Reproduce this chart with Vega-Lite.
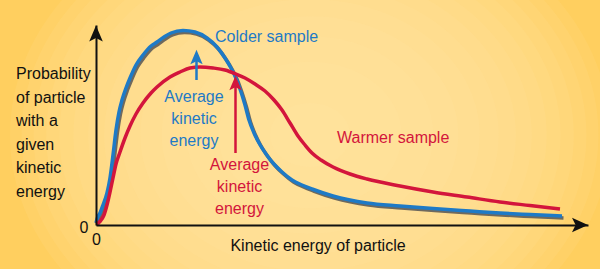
{
  "$schema": "https://vega.github.io/schema/vega-lite/v6.json",
  "width": 492,
  "height": 200,
  "autosize": "none",
  "padding": {"left": 96, "top": 25, "right": 12, "bottom": 44},
  "background": "#FFCF5F",
  "config": {
    "view": {"stroke": null},
    "font": "Liberation Sans"
  },
  "datasets": {
    "glow": [
      {"level": 1}, {"level": 2}, {"level": 3}, {"level": 4}, {"level": 5}, {"level": 6}, {"level": 7},
      {"level": 8}, {"level": 9}, {"level": 10}, {"level": 11}, {"level": 12}, {"level": 13}, {"level": 14}
    ],
    "curves": [
      {"sample": "Colder sample", "x": 0, "y": 2}, {"sample": "Colder sample", "x": 1, "y": 6}, {"sample": "Colder sample", "x": 4, "y": 12}, {"sample": "Colder sample", "x": 7, "y": 20}, {"sample": "Colder sample", "x": 11, "y": 32}, {"sample": "Colder sample", "x": 14, "y": 47}, {"sample": "Colder sample", "x": 17, "y": 70}, {"sample": "Colder sample", "x": 20, "y": 95}, {"sample": "Colder sample", "x": 23, "y": 113}, {"sample": "Colder sample", "x": 26, "y": 125}, {"sample": "Colder sample", "x": 30, "y": 137}, {"sample": "Colder sample", "x": 34, "y": 147}, {"sample": "Colder sample", "x": 40, "y": 160}, {"sample": "Colder sample", "x": 47, "y": 170}, {"sample": "Colder sample", "x": 55, "y": 179}, {"sample": "Colder sample", "x": 61, "y": 183}, {"sample": "Colder sample", "x": 68, "y": 188}, {"sample": "Colder sample", "x": 75, "y": 192}, {"sample": "Colder sample", "x": 87, "y": 194.5}, {"sample": "Colder sample", "x": 99, "y": 193}, {"sample": "Colder sample", "x": 111, "y": 187}, {"sample": "Colder sample", "x": 121, "y": 178}, {"sample": "Colder sample", "x": 129, "y": 167}, {"sample": "Colder sample", "x": 135, "y": 157}, {"sample": "Colder sample", "x": 139, "y": 149}, {"sample": "Colder sample", "x": 144, "y": 136}, {"sample": "Colder sample", "x": 149, "y": 120}, {"sample": "Colder sample", "x": 153, "y": 105}, {"sample": "Colder sample", "x": 158, "y": 92}, {"sample": "Colder sample", "x": 163, "y": 82}, {"sample": "Colder sample", "x": 170, "y": 71}, {"sample": "Colder sample", "x": 177, "y": 62}, {"sample": "Colder sample", "x": 186, "y": 53}, {"sample": "Colder sample", "x": 196, "y": 45}, {"sample": "Colder sample", "x": 206, "y": 40}, {"sample": "Colder sample", "x": 216, "y": 36}, {"sample": "Colder sample", "x": 237, "y": 29}, {"sample": "Colder sample", "x": 271, "y": 22}, {"sample": "Colder sample", "x": 304, "y": 19}, {"sample": "Colder sample", "x": 337, "y": 16.5}, {"sample": "Colder sample", "x": 374, "y": 14}, {"sample": "Colder sample", "x": 404, "y": 12}, {"sample": "Colder sample", "x": 434, "y": 10.5}, {"sample": "Colder sample", "x": 466, "y": 9},
      {"sample": "Warmer sample", "x": 0, "y": 1}, {"sample": "Warmer sample", "x": 4, "y": 3.5}, {"sample": "Warmer sample", "x": 8, "y": 10}, {"sample": "Warmer sample", "x": 11, "y": 20}, {"sample": "Warmer sample", "x": 14, "y": 33}, {"sample": "Warmer sample", "x": 17, "y": 47}, {"sample": "Warmer sample", "x": 20, "y": 61}, {"sample": "Warmer sample", "x": 24, "y": 73}, {"sample": "Warmer sample", "x": 29, "y": 87}, {"sample": "Warmer sample", "x": 34, "y": 99}, {"sample": "Warmer sample", "x": 40, "y": 111}, {"sample": "Warmer sample", "x": 47, "y": 122}, {"sample": "Warmer sample", "x": 55, "y": 132}, {"sample": "Warmer sample", "x": 61, "y": 138}, {"sample": "Warmer sample", "x": 74, "y": 148}, {"sample": "Warmer sample", "x": 84, "y": 153}, {"sample": "Warmer sample", "x": 94, "y": 157}, {"sample": "Warmer sample", "x": 104, "y": 158}, {"sample": "Warmer sample", "x": 117, "y": 157}, {"sample": "Warmer sample", "x": 129, "y": 155}, {"sample": "Warmer sample", "x": 140, "y": 151}, {"sample": "Warmer sample", "x": 149, "y": 147}, {"sample": "Warmer sample", "x": 159, "y": 141}, {"sample": "Warmer sample", "x": 169, "y": 134}, {"sample": "Warmer sample", "x": 178, "y": 125}, {"sample": "Warmer sample", "x": 186, "y": 115}, {"sample": "Warmer sample", "x": 194, "y": 102}, {"sample": "Warmer sample", "x": 202, "y": 89}, {"sample": "Warmer sample", "x": 209, "y": 80}, {"sample": "Warmer sample", "x": 216, "y": 72}, {"sample": "Warmer sample", "x": 225, "y": 65}, {"sample": "Warmer sample", "x": 237, "y": 58}, {"sample": "Warmer sample", "x": 254, "y": 51}, {"sample": "Warmer sample", "x": 271, "y": 46}, {"sample": "Warmer sample", "x": 304, "y": 39}, {"sample": "Warmer sample", "x": 337, "y": 33}, {"sample": "Warmer sample", "x": 371, "y": 28}, {"sample": "Warmer sample", "x": 404, "y": 23}, {"sample": "Warmer sample", "x": 434, "y": 19.5}, {"sample": "Warmer sample", "x": 464, "y": 16}
    ],
    "averages": [
      {"sample": "Colder sample", "x": 100.5, "y": 145, "y2": 166, "yh": 168},
      {"sample": "Warmer sample", "x": 139.5, "y": 72, "y2": 139, "yh": 142}
    ],
    "axisArrows": [
      {"dir": "x", "x": 484, "y": 0},
      {"dir": "y", "x": 0, "y": 191.5}
    ],
    "leftLabels": [
      {"group": "axis", "x": -80, "y": 146, "text": "Probability\nof particle\nwith a\ngiven\nkinetic\nenergy"},
      {"group": "Colder sample", "x": 119, "y": 183.5, "text": "Colder sample"},
      {"group": "Warmer sample", "x": 241, "y": 81.7, "text": "Warmer sample"}
    ],
    "centerLabels": [
      {"group": "Colder sample", "x": 98, "y": 123.3, "text": "Average\nkinetic\nenergy"},
      {"group": "Warmer sample", "x": 143.5, "y": 55, "text": "Average\nkinetic\nenergy"},
      {"group": "axis", "x": 222, "y": -26, "text": "Kinetic energy of particle"}
    ]
  },
  "layer": [
    {
      "data": {"name": "glow"},
      "mark": {"type": "point", "filled": true, "fill": "#FFEBB4", "fillOpacity": 0.1, "opacity": 1, "strokeOpacity": 0, "clip": false, "shape": "M-1,0 C-1,-0.4418 -0.5523,-0.8 0,-0.8 C0.5523,-0.8 1,-0.4418 1,0 C1,0.4418 0.5523,0.8 0,0.8 C-0.5523,0.8 -1,0.4418 -1,0 Z"},
      "encoding": {
        "x": {"datum": 214, "type": "quantitative", "scale": {"domain": [0, 492], "nice": false, "zero": false},
              "axis": {"values": [0], "title": null, "grid": false, "ticks": false, "tickSize": 0, "domainColor": "#111111", "domainWidth": 2, "labelColor": "#111111", "labelFontSize": 16, "labelPadding": 6, "labelFlush": false, "zindex": 1}},
        "y": {"datum": 90, "type": "quantitative", "scale": {"domain": [0, 200], "nice": false, "zero": false},
              "axis": {"values": [0], "title": null, "grid": false, "ticks": false, "tickSize": 0, "domainColor": "#111111", "domainWidth": 2, "labelColor": "#111111", "labelFontSize": 16, "labelPadding": 8, "labelOffset": 2, "labelFlush": false, "zindex": 1}},
        "size": {"field": "level", "type": "quantitative", "scale": {"domain": [1, 14], "range": [360000, 6400]}, "legend": null}
      }
    },
    {
      "data": {"name": "curves"},
      "transform": [{"filter": "datum.sample === 'Colder sample'"}],
      "mark": {"type": "line", "interpolate": "monotone", "color": "#6E695E", "strokeWidth": 3.5, "xOffset": 1.5, "yOffset": 2},
      "encoding": {
        "x": {"field": "x", "type": "quantitative", "scale": {"domain": [0, 492], "nice": false, "zero": false},
              "axis": {"values": [0], "title": null, "grid": false, "ticks": false, "tickSize": 0, "domainColor": "#111111", "domainWidth": 2, "labelColor": "#111111", "labelFontSize": 16, "labelPadding": 6, "labelFlush": false, "zindex": 1}},
        "y": {"field": "y", "type": "quantitative", "scale": {"domain": [0, 200], "nice": false, "zero": false},
              "axis": {"values": [0], "title": null, "grid": false, "ticks": false, "tickSize": 0, "domainColor": "#111111", "domainWidth": 2, "labelColor": "#111111", "labelFontSize": 16, "labelPadding": 8, "labelOffset": 2, "labelFlush": false, "zindex": 1}}
      }
    },
    {
      "data": {"name": "curves"},
      "mark": {"type": "line", "interpolate": "monotone", "strokeWidth": 3.5},
      "encoding": {
        "x": {"field": "x", "type": "quantitative", "scale": {"domain": [0, 492], "nice": false, "zero": false},
              "axis": {"values": [0], "title": null, "grid": false, "ticks": false, "tickSize": 0, "domainColor": "#111111", "domainWidth": 2, "labelColor": "#111111", "labelFontSize": 16, "labelPadding": 6, "labelFlush": false, "zindex": 1}},
        "y": {"field": "y", "type": "quantitative", "scale": {"domain": [0, 200], "nice": false, "zero": false},
              "axis": {"values": [0], "title": null, "grid": false, "ticks": false, "tickSize": 0, "domainColor": "#111111", "domainWidth": 2, "labelColor": "#111111", "labelFontSize": 16, "labelPadding": 8, "labelOffset": 2, "labelFlush": false, "zindex": 1}},
        "color": {"field": "sample", "type": "nominal", "scale": {"domain": ["Colder sample", "Warmer sample", "axis"], "range": ["#1E7AC6", "#D3153C", "#111111"]}, "legend": null}
      }
    },
    {
      "data": {"name": "averages"},
      "mark": {"type": "rule", "strokeWidth": 2.5},
      "encoding": {
        "x": {"field": "x", "type": "quantitative", "scale": {"domain": [0, 492], "nice": false, "zero": false},
              "axis": {"values": [0], "title": null, "grid": false, "ticks": false, "tickSize": 0, "domainColor": "#111111", "domainWidth": 2, "labelColor": "#111111", "labelFontSize": 16, "labelPadding": 6, "labelFlush": false, "zindex": 1}},
        "y": {"field": "y", "type": "quantitative", "scale": {"domain": [0, 200], "nice": false, "zero": false},
              "axis": {"values": [0], "title": null, "grid": false, "ticks": false, "tickSize": 0, "domainColor": "#111111", "domainWidth": 2, "labelColor": "#111111", "labelFontSize": 16, "labelPadding": 8, "labelOffset": 2, "labelFlush": false, "zindex": 1}},
        "y2": {"field": "y2"},
        "color": {"field": "sample", "type": "nominal", "scale": {"domain": ["Colder sample", "Warmer sample", "axis"], "range": ["#1E7AC6", "#D3153C", "#111111"]}, "legend": null}
      }
    },
    {
      "data": {"name": "averages"},
      "mark": {"type": "point", "filled": true, "opacity": 1, "size": 210, "shape": "M0,-1 L-0.85,1 L0,0.6 L0.85,1 Z"},
      "encoding": {
        "x": {"field": "x", "type": "quantitative", "scale": {"domain": [0, 492], "nice": false, "zero": false},
              "axis": {"values": [0], "title": null, "grid": false, "ticks": false, "tickSize": 0, "domainColor": "#111111", "domainWidth": 2, "labelColor": "#111111", "labelFontSize": 16, "labelPadding": 6, "labelFlush": false, "zindex": 1}},
        "y": {"field": "yh", "type": "quantitative", "scale": {"domain": [0, 200], "nice": false, "zero": false},
              "axis": {"values": [0], "title": null, "grid": false, "ticks": false, "tickSize": 0, "domainColor": "#111111", "domainWidth": 2, "labelColor": "#111111", "labelFontSize": 16, "labelPadding": 8, "labelOffset": 2, "labelFlush": false, "zindex": 1}},
        "color": {"field": "sample", "type": "nominal", "scale": {"domain": ["Colder sample", "Warmer sample", "axis"], "range": ["#1E7AC6", "#D3153C", "#111111"]}, "legend": null}
      }
    },
    {
      "data": {"name": "axisArrows"},
      "transform": [{"filter": "datum.dir === 'x'"}],
      "mark": {"type": "point", "filled": true, "opacity": 1, "size": 256, "color": "#111111", "clip": false, "shape": "M1,0 L-1,-0.9 L-0.55,0 L-1,0.9 Z"},
      "encoding": {
        "x": {"field": "x", "type": "quantitative", "scale": {"domain": [0, 492], "nice": false, "zero": false},
              "axis": {"values": [0], "title": null, "grid": false, "ticks": false, "tickSize": 0, "domainColor": "#111111", "domainWidth": 2, "labelColor": "#111111", "labelFontSize": 16, "labelPadding": 6, "labelFlush": false, "zindex": 1}},
        "y": {"field": "y", "type": "quantitative", "scale": {"domain": [0, 200], "nice": false, "zero": false},
              "axis": {"values": [0], "title": null, "grid": false, "ticks": false, "tickSize": 0, "domainColor": "#111111", "domainWidth": 2, "labelColor": "#111111", "labelFontSize": 16, "labelPadding": 8, "labelOffset": 2, "labelFlush": false, "zindex": 1}}
      }
    },
    {
      "data": {"name": "axisArrows"},
      "transform": [{"filter": "datum.dir === 'y'"}],
      "mark": {"type": "point", "filled": true, "opacity": 1, "size": 256, "color": "#111111", "clip": false, "shape": "M0,-1 L-0.85,1 L0,0.55 L0.85,1 Z"},
      "encoding": {
        "x": {"field": "x", "type": "quantitative", "scale": {"domain": [0, 492], "nice": false, "zero": false},
              "axis": {"values": [0], "title": null, "grid": false, "ticks": false, "tickSize": 0, "domainColor": "#111111", "domainWidth": 2, "labelColor": "#111111", "labelFontSize": 16, "labelPadding": 6, "labelFlush": false, "zindex": 1}},
        "y": {"field": "y", "type": "quantitative", "scale": {"domain": [0, 200], "nice": false, "zero": false},
              "axis": {"values": [0], "title": null, "grid": false, "ticks": false, "tickSize": 0, "domainColor": "#111111", "domainWidth": 2, "labelColor": "#111111", "labelFontSize": 16, "labelPadding": 8, "labelOffset": 2, "labelFlush": false, "zindex": 1}}
      }
    },
    {
      "data": {"name": "leftLabels"},
      "mark": {"type": "text", "align": "left", "baseline": "alphabetic", "fontSize": 16, "lineBreak": "\n", "lineHeight": 23.5, "clip": false},
      "encoding": {
        "x": {"field": "x", "type": "quantitative", "scale": {"domain": [0, 492], "nice": false, "zero": false},
              "axis": {"values": [0], "title": null, "grid": false, "ticks": false, "tickSize": 0, "domainColor": "#111111", "domainWidth": 2, "labelColor": "#111111", "labelFontSize": 16, "labelPadding": 6, "labelFlush": false, "zindex": 1}},
        "y": {"field": "y", "type": "quantitative", "scale": {"domain": [0, 200], "nice": false, "zero": false},
              "axis": {"values": [0], "title": null, "grid": false, "ticks": false, "tickSize": 0, "domainColor": "#111111", "domainWidth": 2, "labelColor": "#111111", "labelFontSize": 16, "labelPadding": 8, "labelOffset": 2, "labelFlush": false, "zindex": 1}},
        "text": {"field": "text"},
        "color": {"field": "group", "type": "nominal", "scale": {"domain": ["Colder sample", "Warmer sample", "axis"], "range": ["#1E7AC6", "#D3153C", "#111111"]}, "legend": null}
      }
    },
    {
      "data": {"name": "centerLabels"},
      "mark": {"type": "text", "align": "center", "baseline": "alphabetic", "fontSize": 16, "lineBreak": "\n", "lineHeight": 22, "clip": false},
      "encoding": {
        "x": {"field": "x", "type": "quantitative", "scale": {"domain": [0, 492], "nice": false, "zero": false},
              "axis": {"values": [0], "title": null, "grid": false, "ticks": false, "tickSize": 0, "domainColor": "#111111", "domainWidth": 2, "labelColor": "#111111", "labelFontSize": 16, "labelPadding": 6, "labelFlush": false, "zindex": 1}},
        "y": {"field": "y", "type": "quantitative", "scale": {"domain": [0, 200], "nice": false, "zero": false},
              "axis": {"values": [0], "title": null, "grid": false, "ticks": false, "tickSize": 0, "domainColor": "#111111", "domainWidth": 2, "labelColor": "#111111", "labelFontSize": 16, "labelPadding": 8, "labelOffset": 2, "labelFlush": false, "zindex": 1}},
        "text": {"field": "text"},
        "color": {"field": "group", "type": "nominal", "scale": {"domain": ["Colder sample", "Warmer sample", "axis"], "range": ["#1E7AC6", "#D3153C", "#111111"]}, "legend": null}
      }
    }
  ]
}
